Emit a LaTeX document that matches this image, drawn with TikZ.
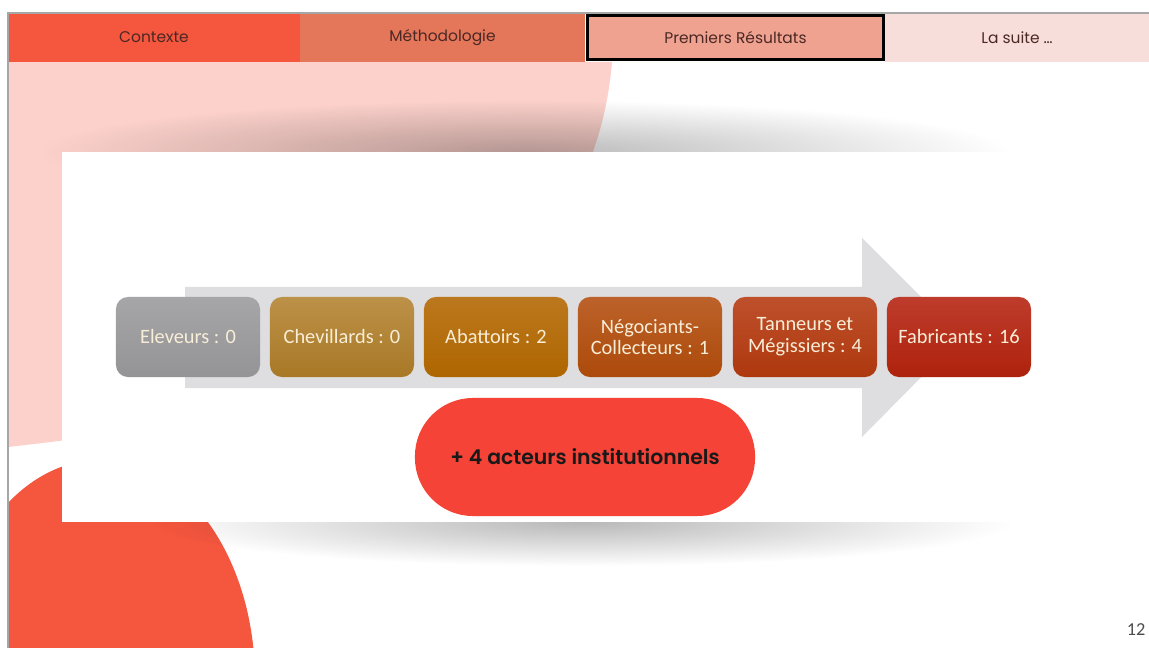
\documentclass[tikz,border=0pt]{standalone}
\usepackage{fontspec}
\newfontfamily\tabfont{Poppins}
\newfontfamily\pillfont{Poppins SemiBold}
\newfontfamily\boxfont{Carlito}
\usetikzlibrary{fadings}
\definecolor{ctxred}{RGB}{244,86,62}
\definecolor{methred}{RGB}{228,118,90}
\definecolor{resred}{RGB}{240,162,144}
\definecolor{nextpink}{RGB}{248,222,218}
\definecolor{bgpink}{RGB}{252,209,203}
\definecolor{pillred}{RGB}{245,67,55}
\definecolor{arrowgray}{RGB}{222,222,224}
\definecolor{tabtext}{RGB}{75,40,36}
\definecolor{boxtext}{RGB}{248,238,215}
\tikzfading[name=shadowfade,inner color=transparent!0,outer color=transparent!100]

\begin{document}
\begin{tikzpicture}[
x=0.025cm,
y=-0.025cm,
every node/.style={inner sep=0pt},
tab/.style={rectangle,minimum height=1.225cm,text=tabtext,font=\tabfont\fontsize{11}{13}\selectfont},
actor/.style={rectangle,rounded corners=0.3cm,minimum width=3.6cm,minimum height=2cm,align=center,text=boxtext,font=\boxfont\fontsize{14.5}{15.5}\selectfont},
pill/.style={rectangle,rounded corners=1.45cm,minimum width=8.5cm,minimum height=2.95cm,fill=pillred,text=black!90,font=\pillfont\fontsize{14.5}{17}\selectfont}
]
\useasboundingbox (0,0) rectangle (1149,648);
\fill[white] (0,0) rectangle (1149,648);

% background shapes of the slide
\begin{scope}
\clip (8,13) rectangle (1149,648);
\fill[bgpink] (8,62) -- (612,62) .. controls (585,380) and (200,425) .. (8,447) -- cycle;
\fill[ctxred] (100,680) ellipse [x radius=155, y radius=220];
\end{scope}

% card with its shadows
\fill[black,opacity=0.28,path fading=shadowfade] (40,100) rectangle (1010,204);
\fill[black,opacity=0.28,path fading=shadowfade] (150,478) rectangle (1012,566);
\fill[white] (62,152) rectangle (1022,522);

% process arrow
\fill[arrowgray] (185,287) -- (862,287) -- (862,238) -- (961,337) -- (862,437) -- (862,388) -- (185,388) -- cycle;

\node[actor,top color={rgb,255:red,166;green,166;blue,168},bottom color={rgb,255:red,148;green,148;blue,150}] (eleveurs) at (188,337) {Eleveurs : 0};
\node[actor,top color={rgb,255:red,188;green,145;blue,72},bottom color={rgb,255:red,168;green,120;blue,38}] (chevillards) at (342,337) {Chevillards : 0};
\node[actor,top color={rgb,255:red,188;green,120;blue,30},bottom color={rgb,255:red,174;green,102;blue,0}] (abattoirs) at (496,337) {Abattoirs : 2};
\node[actor,top color={rgb,255:red,188;green,98;blue,42},bottom color={rgb,255:red,172;green,74;blue,10}] (negociants) at (650,337) {Négociants-\\Collecteurs : 1};
\node[actor,top color={rgb,255:red,190;green,80;blue,44},bottom color={rgb,255:red,174;green,56;blue,14}] (tanneurs) at (805,337) {Tanneurs et\\Mégissiers : 4};
\node[actor,top color={rgb,255:red,190;green,60;blue,44},bottom color={rgb,255:red,174;green,34;blue,12}] (fabricants) at (959,337) {Fabricants : 16};

\node[pill] (institutions) at (585,457) {+ 4 acteurs institutionnels};

% navigation tabs
\node[tab,fill=ctxred,minimum width=7.3cm] (contexte) at (154,37.5) {Contexte};
\node[tab,fill=methred,minimum width=7.125cm] (methodo) at (442.5,37.5) {Méthodologie};
\node[tab,fill=nextpink,minimum width=6.6cm] (suite) at (1017,37.5) {La suite …};
\node[tab,fill=resred,draw=black,line width=2.1pt,minimum width=7.4cm,minimum height=1.12cm] (resultats) at (735.5,37.5) {Premiers Résultats};

% frame of the slide
\draw[gray!70,line width=0.8pt] (8,648) -- (8,13) -- (1149,13);

\node[font=\boxfont\fontsize{13}{15}\selectfont,text=black!70] (pagenum) at (1136,630) {12};
\end{tikzpicture}
\end{document}
